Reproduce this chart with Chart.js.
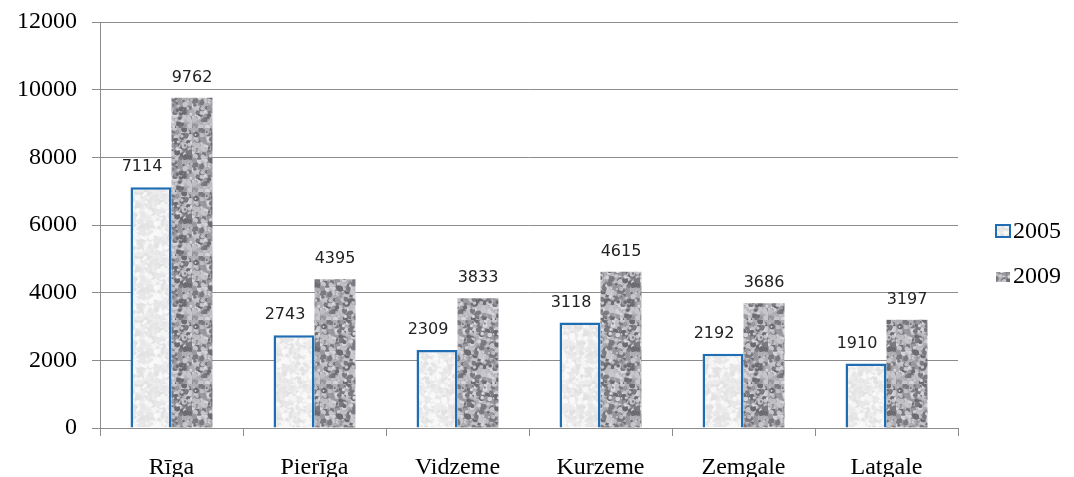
<!DOCTYPE html>
<html>
<head>
<meta charset="utf-8">
<script src="https://cdn.jsdelivr.net/npm/chart.js@4.4.0/dist/chart.umd.min.js"></script>
<style>
  html, body { margin: 0; padding: 0; background: #fff; }
  #wrap { width: 1074px; height: 477px; }
</style>
</head>
<body>
<div id="wrap"><canvas id="regionChart" width="1074" height="477"></canvas></div>
<script>
// chart data
const regions = ['Rīga', 'Pierīga', 'Vidzeme', 'Kurzeme', 'Zemgale', 'Latgale'];
const values2005 = [7114, 2743, 2309, 3118, 2192, 1910];
const values2009 = [9762, 4395, 3833, 4615, 3686, 3197];
const seriesNames = ['2005', '2009'];
const yTicks = [0, 2000, 4000, 6000, 8000, 10000, 12000];

const serif = "'Liberation Serif', 'Times New Roman', serif";
const gridGrey = '#8c8c8c';
const blueEdge = '#1f6db2';

// small mottled textures for the bar fills (fixed seed, just decoration)
function makeTexture(base, spots, count, seed) {
    const c = document.createElement('canvas');
    c.width = 64; c.height = 64;
    const g = c.getContext('2d');
    g.fillStyle = base;
    g.fillRect(0, 0, 64, 64);
    let s = seed;
    const rnd = () => { s = (s * 1103515245 + 12345) % 2147483648; return s / 2147483648; };
    for (let i = 0; i < count; i++) {
        g.fillStyle = spots[Math.floor(rnd() * spots.length)];
        g.beginPath();
        g.arc(rnd() * 64, rnd() * 64, 0.8 + rnd() * 2.2, 0, Math.PI * 2);
        g.fill();
    }
    return g.createPattern(c, 'repeat');
}

const ctx = document.getElementById('regionChart');
const tex2005 = makeTexture('#ececec', ['#e2e2e2', '#f5f5f5', '#e7e7e9', '#f9f9f9'], 500, 7);
const tex2009 = makeTexture('#aeaeb3', ['#7a7a80', '#d6d6da', '#98989e', '#c6c6cb', '#6b6b71', '#bdbdc2'], 650, 13);

const valueLabels = {
    id: 'valueLabels',
    afterDatasetsDraw(chart) {
        const g = chart.ctx;
        g.save();
        g.font = "16px 'DejaVu Sans', sans-serif";
        g.fillStyle = '#222';
        g.textAlign = 'center';
        g.textBaseline = 'middle';
        chart.data.datasets.forEach((ds, di) => {
            const shift = di === 0 ? -9 : 0;
            chart.getDatasetMeta(di).data.forEach((bar, i) => {
                g.fillText(String(ds.data[i]), bar.x + shift, bar.y - 20);
            });
        });
        g.restore();
    }
};

const sideLegend = {
    id: 'sideLegend',
    afterDraw(chart) {
        const g = chart.ctx;
        g.save();
        g.font = '24px ' + serif;
        g.textBaseline = 'alphabetic';
        // 2005
        g.fillStyle = tex2005;
        g.fillRect(996, 225, 14, 12);
        g.strokeStyle = blueEdge;
        g.lineWidth = 2;
        g.strokeRect(996, 225, 14, 12);
        g.fillStyle = '#000';
        g.fillText(seriesNames[0], 1013, 238);
        // 2009
        g.fillStyle = tex2009;
        g.fillRect(996, 272, 14, 10);
        g.fillStyle = '#000';
        g.fillText(seriesNames[1], 1013, 283);
        g.restore();
    }
};

new Chart(ctx, {
    type: 'bar',
    data: {
        labels: regions,
        datasets: [{
            label: seriesNames[0],
            data: values2005,
            backgroundColor: tex2005,
            borderColor: blueEdge,
            borderWidth: { top: 2.5, left: 2.5, right: 2.5, bottom: 0 },
            borderSkipped: 'bottom'
        }, {
            label: seriesNames[1],
            data: values2009,
            backgroundColor: tex2009,
            borderWidth: 0
        }]
    },
    options: {
        responsive: false,
        animation: false,
        devicePixelRatio: 1,
        layout: { padding: { top: 22, right: 116, bottom: 0, left: 0 } },
        datasets: { bar: { categoryPercentage: 0.573, barPercentage: 1 } },
        plugins: {
            legend: { display: false },
            tooltip: { enabled: false }
        },
        scales: {
            x: {
                offset: true,
                grid: { offset: true, drawOnChartArea: false, color: gridGrey, tickLength: 8 },
                border: { color: gridGrey },
                ticks: { color: '#000', font: { family: serif, size: 24 }, padding: 17, maxRotation: 0 },
                afterFit: s => { s.height = 49; s.paddingLeft = 0; s.paddingRight = 0; }
            },
            y: {
                min: 0,
                max: 12000,
                afterBuildTicks: s => { s.ticks = yTicks.map(v => ({ value: v })); },
                grid: { color: gridGrey, tickLength: 8 },
                border: { color: gridGrey },
                ticks: {
                    color: '#000',
                    font: { family: serif, size: 24 },
                    padding: 15,
                    callback: v => String(v)
                },
                afterFit: s => { s.width = 100; s.paddingTop = 0; s.paddingBottom = 0; }
            }
        }
    },
    plugins: [valueLabels, sideLegend]
});
</script>
</body>
</html>
